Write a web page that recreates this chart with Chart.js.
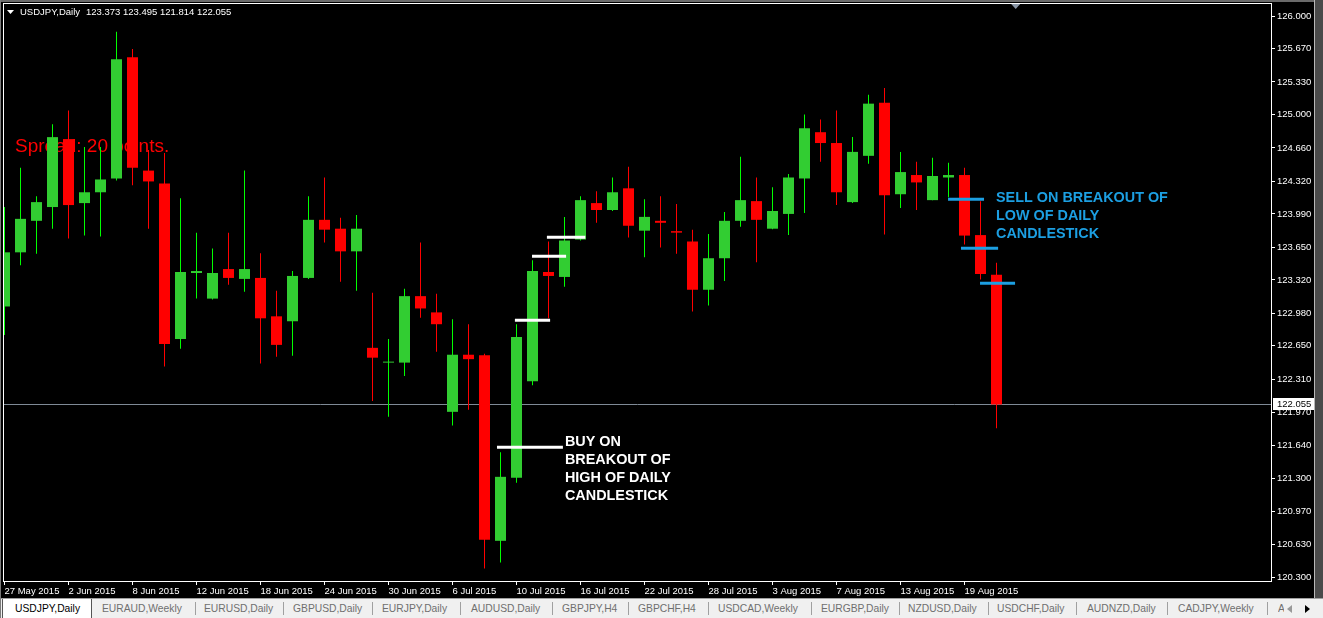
<!DOCTYPE html>
<html>
<head>
<meta charset="utf-8">
<script src="https://cdn.jsdelivr.net/npm/chart.js@4.4.0/dist/chart.umd.min.js"></script>
<style>
html,body{margin:0;padding:0;background:#000;width:1323px;height:618px;overflow:hidden;}
#wrap{position:relative;width:1323px;height:618px;background:#000;}
#c{position:absolute;left:0;top:0;width:1323px;height:598px;background:#000;}
#tabs{position:absolute;left:0;top:598px;width:1323px;height:20px;background:#f0f0f0;border-top:1px solid #a0a0a0;box-sizing:border-box;font-family:"Liberation Sans",Arial,sans-serif;font-size:10.3px;overflow:hidden;}
.tab{position:absolute;top:4px;line-height:12px;color:#6f6f6f;white-space:nowrap;}
.sep{position:absolute;top:3px;width:1px;height:13px;background:#a0a0a0;}
#active{position:absolute;left:2px;top:0;width:88px;height:19px;background:#fff;border-left:1px solid #555;border-right:1px solid #555;}
#winR{position:absolute;left:1314px;top:0;width:9px;height:598px;background:#4a4a4a;border-left:1px solid #b8b8b8;box-sizing:border-box;}
#winT{position:absolute;left:0;top:0;width:1323px;height:2px;background:#6a6a6a;}
#winL{position:absolute;left:0;top:0;width:1px;height:618px;background:#7a7a7a;}
.arrL{position:absolute;left:1287px;top:6px;width:0;height:0;border-top:4px solid transparent;border-bottom:4px solid transparent;border-right:5px solid #999;}
.arrR{position:absolute;left:1305px;top:6px;width:0;height:0;border-top:4px solid transparent;border-bottom:4px solid transparent;border-left:5px solid #000;}
</style>
</head>
<body>
<div id="wrap">
<canvas id="c" width="1323" height="598"></canvas>
<div id="winT"></div>
<div id="winR"></div>
<div id="tabs">
  <div id="active"></div>
</div>
<div id="winL"></div>
</div>
<script>
// ---------------- DATA ----------------
const symbolTitle = 'USDJPY,Daily';
const headerValues = ['123.373', '123.495', '121.814', '122.055'];
const spreadText = 'Spread: 20 points.';
const bidPrice = 122.055;

const opens  = [123.05,123.60,123.92,124.06,124.75,124.10,124.21,124.35,125.58,124.43,
                124.30,122.72,123.39,123.13,123.43,123.33,123.34,122.95,122.90,123.34,
                123.93,123.84,123.61,122.63,122.48,122.48,123.155,122.99,121.98,122.56,
                122.555,120.67,121.31,122.29,123.40,123.35,123.73,124.10,124.03,124.25,
                123.82,123.92,123.815,123.71,123.22,123.54,123.92,124.12,123.84,123.99,
                124.35,124.82,124.71,124.11,124.58,125.12,124.19,124.385,124.13,124.36,
                124.385,123.775,123.373];
const highs  = [124.06,124.46,124.17,124.90,125.04,124.67,124.67,125.84,125.665,124.64,
                124.61,124.15,123.80,123.64,123.80,124.43,123.59,123.21,123.41,124.17,
                124.36,123.95,123.98,123.19,122.72,123.23,123.70,123.18,122.92,122.87,
                122.57,121.57,122.87,123.52,123.71,123.96,124.17,124.22,124.36,124.47,
                124.14,124.17,124.09,123.83,123.785,124.01,124.57,124.36,124.26,124.395,
                125.00,124.95,125.04,124.77,125.20,125.27,124.62,124.52,124.56,124.51,
                124.46,124.12,123.495];
const lows   = [122.76,123.47,123.585,123.84,123.74,123.77,123.76,124.33,124.28,123.84,
                122.44,122.62,123.13,123.12,123.27,123.20,122.47,122.54,122.55,123.33,
                123.70,123.30,123.21,122.09,121.93,122.345,122.935,122.59,121.84,122.00,
                120.39,120.45,121.26,122.25,122.93,123.25,123.72,123.90,124.02,123.75,
                123.55,123.65,123.585,123.00,123.06,123.31,123.86,123.50,123.835,123.775,
                124.00,124.52,124.08,124.10,124.50,123.78,124.05,124.03,124.13,124.16,
                123.68,123.325,121.814];
const closes = [123.60,123.94,124.11,124.77,124.08,124.21,124.34,125.56,124.46,124.32,
                122.67,123.40,123.41,123.39,123.34,123.43,122.93,122.66,123.36,123.93,
                123.83,123.61,123.84,122.53,122.49,123.155,123.03,122.87,122.56,122.515,
                120.68,121.32,122.74,123.41,123.36,123.72,124.13,124.03,124.21,123.87,
                123.96,123.90,123.80,123.22,123.54,123.92,124.13,123.93,124.02,124.36,
                124.86,124.71,124.21,124.62,125.11,124.18,124.415,124.31,124.375,124.385,
                123.77,123.38,122.055];

// date tick labels, one every 4 trading bars starting at bar 0
const dateLabels = ['27 May 2015','2 Jun 2015','8 Jun 2015','12 Jun 2015','18 Jun 2015','24 Jun 2015',
                    '30 Jun 2015','6 Jul 2015','10 Jul 2015','16 Jul 2015','22 Jul 2015','28 Jul 2015',
                    '3 Aug 2015','7 Aug 2015','13 Aug 2015','19 Aug 2015'];
const dateTickBars = [0,4,8,12,16,20,24,28,32,36,40,44,48,52,56,60];
const priceTicks = [126.000,125.670,125.330,125.000,124.660,124.320,123.990,123.650,123.320,
                    122.980,122.650,122.310,121.970,121.640,121.300,120.970,120.630,120.300];

// breakout levels (price, start bar, end bar)
const buyLevels  = [121.620, 122.910, 123.560, 123.753];
const buyFrom    = [30.78, 31.90, 32.97, 33.90];
const buyTo      = [34.90, 34.10, 35.10, 36.30];
const sellLevels = [124.139, 123.641, 123.285];
const sellFrom   = [58.97, 59.78, 60.97];
const sellTo     = [61.22, 62.10, 63.16];
const buyText  = ['BUY ON','BREAKOUT OF','HIGH OF DAILY','CANDLESTICK'];
const sellText = ['SELL ON BREAKOUT OF','LOW OF DAILY','CANDLESTICK'];
const tabNames = ['USDJPY,Daily','EURAUD,Weekly','EURUSD,Daily','GBPUSD,Daily','EURJPY,Daily',
                  'AUDUSD,Daily','GBPJPY,H4','GBPCHF,H4','USDCAD,Weekly','EURGBP,Daily',
                  'NZDUSD,Daily','USDCHF,Daily','AUDNZD,Daily','CADJPY,Weekly','AUDCAD,Daily'];

// ---------------- STYLE / LAYOUT ----------------
const GREEN_BODY = '#32cd32', GREEN_WICK = '#00ff00', RED = '#ff0000';
const BLUE = '#1c9fe2';
const FONT = '"Liberation Sans", Arial, sans-serif';
const X_MIN = -1/32, X_MAX = -1/32 + 1267/16;
const Y_MIN = 120.262, Y_MAX = 126.122;

// tabs (HTML text)
const tabLeft = [15,102,204,293,382,471,562,638,718,821,908,997,1087,1178,1278];
const sepLeft = [195,283,372,460,552,628,708,811,899,988,1076,1167,1267];
const tabsEl = document.getElementById('tabs');
tabNames.forEach((t,i)=>{
  const d=document.createElement('div'); d.className='tab'; d.textContent=t;
  d.style.left=tabLeft[i]+'px';
  if(i===0) d.style.color='#000';
  if(i===tabNames.length-1){ d.style.width='6px'; d.style.overflow='hidden'; }
  tabsEl.appendChild(d);
});
sepLeft.forEach(x=>{const s=document.createElement('div'); s.className='sep'; s.style.left=x+'px'; tabsEl.appendChild(s);});
const aL=document.createElement('div'); aL.className='arrL'; tabsEl.appendChild(aL);
const aR=document.createElement('div'); aR.className='arrR'; tabsEl.appendChild(aR);

// ---------------- CHART ----------------
const isUp = closes.map((c,i)=> c > opens[i]);
const bodyData = opens.map((o,i)=>({x:i, y:[o, closes[i]]}));
const wickData = lows.map((l,i)=>({x:i, y:[l, highs[i]]}));

const decor = {
  id:'decor',
  beforeDatasetsDraw(chart){
    const {ctx, chartArea:a, scales:{x, y}} = chart;
    ctx.save();
    // bid line
    const by = Math.round(y.getPixelForValue(bidPrice)) + 0.5;
    ctx.strokeStyle = '#7f8a96'; ctx.lineWidth = 1;
    ctx.beginPath(); ctx.moveTo(a.left, by); ctx.lineTo(a.right, by); ctx.stroke();
    // spread text
    ctx.fillStyle = RED; ctx.font = '19px ' + FONT; ctx.textBaseline = 'alphabetic';
    ctx.fillText(spreadText, a.left + 11, a.top + 148);
    ctx.restore();
  },
  afterDatasetsDraw(chart){
    const {ctx, chartArea:a, scales:{x, y}} = chart;
    ctx.save();
    ctx.lineWidth = 3;
    ctx.strokeStyle = '#ffffff';
    buyLevels.forEach((p,i)=>{
      const yy = y.getPixelForValue(p);
      ctx.beginPath(); ctx.moveTo(x.getPixelForValue(buyFrom[i]), yy); ctx.lineTo(x.getPixelForValue(buyTo[i]), yy); ctx.stroke();
    });
    ctx.strokeStyle = BLUE;
    sellLevels.forEach((p,i)=>{
      const yy = y.getPixelForValue(p);
      ctx.beginPath(); ctx.moveTo(x.getPixelForValue(sellFrom[i]), yy); ctx.lineTo(x.getPixelForValue(sellTo[i]), yy); ctx.stroke();
    });
    ctx.font = 'bold 14.4px ' + FONT; ctx.textBaseline = 'alphabetic';
    ctx.fillStyle = '#ffffff';
    const bx = x.getPixelForValue(35.03), bY = y.getPixelForValue(buyLevels[0]);
    buyText.forEach((t,i)=> ctx.fillText(t, bx, bY - 1 + i*18));
    ctx.fillStyle = BLUE;
    const sx = x.getPixelForValue(61.97), sY = y.getPixelForValue(sellLevels[0]) + 3;
    sellText.forEach((t,i)=> ctx.fillText(t, sx, sY + i*18));
    ctx.restore();
  },
  afterDraw(chart){
    const {ctx, chartArea:a, scales:{x, y}} = chart;
    ctx.save();
    // plot frame
    ctx.strokeStyle = '#ffffff'; ctx.lineWidth = 1;
    ctx.strokeRect(a.left - 0.5, a.top - 0.5, a.right - a.left + 1, a.bottom - a.top + 1);
    // header
    ctx.fillStyle = '#ffffff';
    ctx.beginPath(); ctx.moveTo(7,10); ctx.lineTo(14,10); ctx.lineTo(10.5,14); ctx.closePath(); ctx.fill();
    ctx.font = '9.5px ' + FONT; ctx.textBaseline = 'alphabetic';
    ctx.fillText(symbolTitle, 20, 15);
    ctx.fillText(headerValues.join(' '), 86, 15);
    // chart shift marker
    const sm = x.getPixelForValue(63.2);
    ctx.fillStyle = '#8a96a6';
    ctx.beginPath(); ctx.moveTo(sm-4.5,4); ctx.lineTo(sm+4.5,4); ctx.lineTo(sm,9); ctx.closePath(); ctx.fill();
    // bid price label on the axis
    const by = Math.round(y.getPixelForValue(bidPrice));
    ctx.fillStyle = '#ffffff';
    ctx.fillRect(a.right + 2, by - 6, 41, 12);
    ctx.fillStyle = '#000000';
    ctx.font = '9.5px ' + FONT; ctx.textBaseline = 'middle';
    ctx.fillText(bidPrice.toFixed(3), a.right + 6, by + 0.5);
    ctx.restore();
  }
};

new Chart(document.getElementById('c'), {
  type: 'bar',
  data: {
    datasets: [
      { label:'body', data: bodyData, order: 1, grouped:false, barThickness: 11,
        backgroundColor: isUp.map(u=> u ? GREEN_BODY : RED), borderWidth: 0, inflateAmount: 0 },
      { label:'wick', data: wickData, order: 2, grouped:false, barThickness: 1,
        backgroundColor: isUp.map(u=> u ? GREEN_WICK : RED), borderWidth: 0, inflateAmount: 0 }
    ]
  },
  options: {
    responsive: false, animation: false, devicePixelRatio: 1,
    layout: { padding: { left: 4, top: 4, right: 0, bottom: 0 } },
    plugins: { legend: { display: false }, tooltip: { enabled: false } },
    events: [],
    scales: {
      x: {
        type: 'linear', min: X_MIN, max: X_MAX, offset: false,
        grid: { display: true, drawOnChartArea: false, drawTicks: true, tickLength: 4, color: '#ffffff', offset: false },
        border: { display: true, color: '#ffffff' },
        afterBuildTicks: s => { s.ticks = dateTickBars.map(v => ({ value: v })); },
        afterFit: s => { s.height = 17; s.paddingLeft = 0; s.paddingRight = 0; },
        ticks: { align: 'start', color: '#ffffff', autoSkip: false, maxRotation: 0, padding: 1,
                 font: { family: FONT, size: 9.5 },
                 callback: (v, i) => dateLabels[i] }
      },
      y: {
        position: 'right', min: Y_MIN, max: Y_MAX,
        grid: { display: true, drawOnChartArea: false, drawTicks: true, tickLength: 4, color: '#ffffff' },
        border: { display: true, color: '#ffffff' },
        afterBuildTicks: s => { s.ticks = priceTicks.map(v => ({ value: v })); },
        afterFit: s => { s.width = 52; s.paddingTop = 0; s.paddingBottom = 0; },
        ticks: { color: '#ffffff', autoSkip: false, padding: 2, crossAlign: 'near',
                 font: { family: FONT, size: 9.5 },
                 callback: v => Number(v).toFixed(3) }
      }
    }
  },
  plugins: [decor]
});
</script>
</body>
</html>
